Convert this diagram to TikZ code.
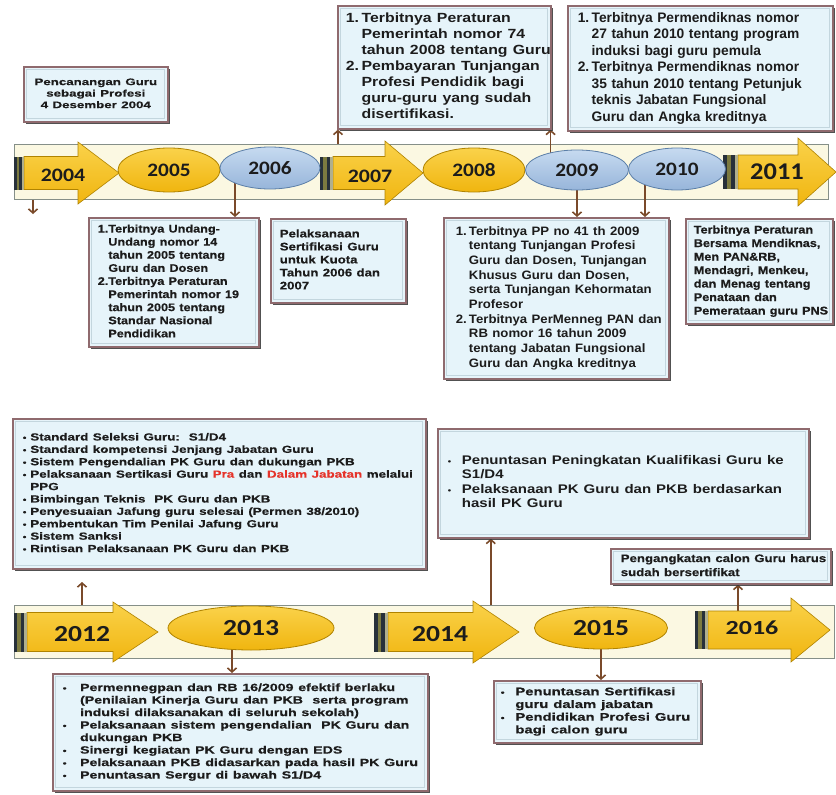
\documentclass[tikz,border=0pt]{standalone}
\usepackage{fontspec}
\usepackage{graphicx}
\setmainfont{Liberation Sans}
\newfontfamily\yearfont{Carlito}
\usetikzlibrary{arrows.meta,shapes.geometric,shadows}
\pgfdeclarelayer{back}
\pgfdeclarelayer{links}
\pgfsetlayers{back,links,main}
\definecolor{boxfill}{HTML}{E6F4FA}
\definecolor{boxedge}{HTML}{8F6A6E}
\definecolor{boxinner}{HTML}{C3D6DE}
\definecolor{shadowc}{HTML}{333333}
\definecolor{stripfill}{HTML}{FBF8E2}
\definecolor{stripedge}{HTML}{858F88}
\definecolor{goldT}{HTML}{FAD24A}
\definecolor{goldB}{HTML}{F0B50F}
\definecolor{goldE}{HTML}{B08300}
\definecolor{blueT}{HTML}{C6DAF0}
\definecolor{blueB}{HTML}{97B5DA}
\definecolor{blueE}{HTML}{5C7FA8}
\definecolor{connc}{HTML}{7A4A2A}
\definecolor{txt}{HTML}{1C1C1C}
\definecolor{redtxt}{HTML}{E5332A}
\definecolor{barD}{HTML}{27303A}
\definecolor{barO}{HTML}{7C7A40}
% font size / line skip, bold
\newcommand\tf[2]{\fontsize{#1}{#2}\selectfont\bfseries}
% smaller text: slightly heavier
\newcommand\tfh[2]{\fontsize{#1}{#2}\selectfont\bfseries\addfontfeatures{FakeBold=0.4}}
% horizontally stretched table: {stretch}{colspec}{rows}
\newcommand\tb[3]{\scalebox{#1}[1]{\begin{tabular}{#2}#3\end{tabular}}}
\newcommand\yf[1]{\yearfont\bfseries\fontsize{#1}{#1}\selectfont}
\newcommand\ys[2]{\scalebox{#1}[1]{#2}}
\newcommand\bul{{\fontsize{8}{8}\selectfont\textbullet}}
\tikzset{
  box/.style={rectangle, draw=boxedge, line width=1.6pt, fill=boxfill, text=txt, align=left,
    inner ysep=0pt, anchor=north west,
    drop shadow={shadow xshift=2pt, shadow yshift=-2pt, fill=shadowc, opacity=0.85},
    path picture={\draw[boxinner, line width=0.8pt]
      ([shift={(3pt,-3pt)}]path picture bounding box.north west) rectangle
      ([shift={(-3pt,3pt)}]path picture bounding box.south east);}},
  strip/.style={rectangle, draw=stripedge, line width=1.4pt, fill=stripfill, inner sep=0pt, anchor=north west},
  goldell/.style={ellipse, draw=goldE, line width=0.8pt, top color=goldT, bottom color=goldB, text=txt, inner sep=0pt},
  blueell/.style={ellipse, draw=blueE, line width=0.8pt, top color=blueT, bottom color=blueB, text=txt, inner sep=0pt},
  goldarrow/.style={draw=goldE, line width=0.6pt, top color=goldT, bottom color=goldB},
  yearlbl/.style={text=txt, inner sep=0pt},
  conn/.style={draw=connc, line width=1.6pt, -{Straight Barb[length=4pt,width=9pt]}},
}
% x0 xb xh xt ym bodyhalf headhalf
\newcommand\yarrow[7]{%
  \path[goldarrow] (#2,#5-#6) -- (#3,#5-#6) -- (#3,#5-#7) -- (#4,#5) -- (#3,#5+#7) -- (#3,#5+#6) -- (#2,#5+#6) -- cycle;
  \fill[barD] (#1,#5-#6) rectangle ({#1+0.25*(#2-#1)},#5+#6);
  \fill[barO] ({#1+0.25*(#2-#1)},#5-#6) rectangle ({#1+0.5*(#2-#1)},#5+#6);
  \fill[barD] ({#1+0.5*(#2-#1)},#5-#6) rectangle ({#1+0.8*(#2-#1)},#5+#6);
  \fill[barO!60] ({#1+0.8*(#2-#1)},#5-#6) rectangle (#2,#5+#6);
}
\begin{document}
\begin{tikzpicture}[x=1pt,y=-1pt]
\useasboundingbox (0,0) rectangle (836,795);
\begin{pgfonlayer}{back}
\fill[white] (0,0) rectangle (836,795);
\node[strip, minimum width=814pt, minimum height=55pt] (s1) at (14,144) {};
\node[strip, minimum width=820pt, minimum height=53pt] (s2) at (14,605) {};
\end{pgfonlayer}

% ===== named points
\coordinate (d04) at (33,214);
\coordinate (u12) at (82,582);
\coordinate (a16top) at (738,612);

% ===== timeline row 1
\yarrow{14}{24}{78}{119}{173}{16.5}{31}
\yarrow{320}{333}{385}{423}{173}{16.5}{32}
\yarrow{723}{738}{798}{836}{172}{17}{34}
\node[yearlbl, font=\yf{19}] (y04) at (63,175) {\ys{1.15}{2004}};
\node[yearlbl, font=\yf{19}] (y07) at (370,176) {\ys{1.15}{2007}};
\node[yearlbl, font=\yf{24}] (y11) at (777,172) {\ys{1.1}{2011}};
\node[goldell, minimum width=102pt, minimum height=44pt, font=\yf{19}] (e05) at (169,170) {\ys{1.12}{2005}};
\node[blueell, minimum width=100pt, minimum height=42pt, font=\yf{19}] (e06) at (270,168) {\ys{1.12}{2006}};
\node[goldell, minimum width=102pt, minimum height=44pt, font=\yf{19}] (e08) at (474,170) {\ys{1.12}{2008}};
\node[blueell, minimum width=103pt, minimum height=40pt, font=\yf{19}] (e09) at (577,170) {\ys{1.12}{2009}};
\node[blueell, minimum width=97pt, minimum height=42pt, font=\yf{19}] (e10) at (677,169) {\ys{1.12}{2010}};

% ===== timeline row 2
\yarrow{14}{27}{113}{158}{632}{19.5}{30}
\yarrow{374}{388}{473}{519}{632}{19.5}{31}
\yarrow{695}{708}{791}{830}{630}{19}{32}
\node[yearlbl, font=\yf{23}] (y12) at (82,634) {\ys{1.2}{2012}};
\node[yearlbl, font=\yf{23}] (y14) at (440,634) {\ys{1.2}{2014}};
\node[yearlbl, font=\yf{20}] (y16) at (752,628) {\ys{1.3}{2016}};
\node[goldell, minimum width=166pt, minimum height=44pt, font=\yf{23}] (e13) at (251,628) {\ys{1.2}{2013}};
\node[goldell, minimum width=133pt, minimum height=42pt, font=\yf{23}] (e15) at (601,628) {\ys{1.2}{2015}};

% ===== boxes row 1
\node[box, text width=136pt, inner xsep=4pt, minimum height=55pt, align=center, font=\tfh{9.5}{11.5}] (b04) at (23,66)
  {\tb{1.4}{@{}c@{}}{Pencanangan Guru\\sebagai Profesi\\4 Desember 2004}};
\node[box, text width=197pt, inner xsep=8pt, minimum height=123pt, font=\tf{13.3}{16}] (b07) at (337,5)
  {\tb{1.19}{@{}l@{\,}l@{}}{1.&Terbitnya Peraturan\\&Pemerintah nomor 74\\&tahun 2008 tentang Guru\\2.&Pembayaran Tunjangan\\&Profesi Pendidik bagi\\&guru-guru yang sudah\\&disertifikasi.}};
\node[box, text width=245pt, inner xsep=10pt, minimum height=125pt, font=\tf{13.8}{16.5}] (b10) at (567,5)
  {\tb{1.0}{@{}l@{\,}l@{}}{1.&Terbitnya Permendiknas nomor\\&27 tahun 2010 tentang program\\&induksi bagi guru pemula\\2.&Terbitnya Permendiknas nomor\\&35 tahun 2010 tentang Petunjuk\\&teknis Jabatan Fungsional\\&Guru dan Angka kreditnya}};
\node[box, text width=152pt, inner xsep=9pt, minimum height=129pt, font=\tfh{11}{13.1}] (b05) at (88,217)
  {\tb{1.15}{@{}l@{}l@{}}{1.&Terbitnya Undang-\\&Undang nomor 14\\&tahun 2005 tentang\\&Guru dan Dosen\\2.&Terbitnya Peraturan\\&Pemerintah nomor 19\\&tahun 2005 tentang\\&Standar Nasional\\&Pendidikan}};
\node[box, text width=117pt, inner xsep=9pt, minimum height=84pt, font=\tfh{11}{13}] (b06) at (270,218)
  {\tb{1.2}{@{}l@{}}{Pelaksanaan\\Sertifikasi Guru\\untuk Kuota\\Tahun 2006 dan\\2007}};
\node[box, text width=201pt, inner xsep=12pt, minimum height=161pt, font=\tf{12.2}{14.7}] (b09) at (443,217)
  {\tb{1.08}{@{}l@{\,}l@{}}{1.&Terbitnya PP no 41 th 2009\\&tentang Tunjangan Profesi\\&Guru dan Dosen, Tunjangan\\&Khusus Guru dan Dosen,\\&serta Tunjangan Kehormatan\\&Profesor\\2.&Terbitnya PerMenneg PAN dan\\&RB nomor 16 tahun 2009\\&tentang Jabatan Fungsional\\&Guru dan Angka kreditnya}};
\node[box, text width=131pt, inner xsep=8pt, minimum height=105pt, font=\tfh{11.2}{13.5}] (b11) at (685,218)
  {\tb{1.13}{@{}l@{}}{Terbitnya Peraturan\\Bersama Mendiknas,\\Men PAN\&RB,\\Mendagri, Menkeu,\\dan Menag tentang\\Penataan dan\\Pemerataan guru PNS}};

% ===== boxes row 2
\node[box, text width=393pt, inner xsep=10pt, minimum height=150pt, font=\tfh{10.3}{12.4}] (b12) at (12,418)
  {\tb{1.3}{@{}l@{\hspace{3pt}}l@{}}{\bul&Standard Seleksi Guru:\ \ S1/D4\\\bul&Standard kompetensi Jenjang Jabatan Guru\\\bul&Sistem Pengendalian PK Guru dan dukungan PKB\\\bul&Pelaksanaan Sertikasi Guru \textcolor{redtxt}{Pra} dan \textcolor{redtxt}{Dalam Jabatan} melalui\\&PPG\\\bul&Bimbingan Teknis\ \ PK Guru dan PKB\\\bul&Penyesuaian Jafung guru selesai (Permen 38/2010)\\\bul&Pembentukan Tim Penilai Jafung Guru\\\bul&Sistem Sanksi\\\bul&Rintisan Pelaksanaan PK Guru dan PKB}};
\node[box, text width=351pt, inner xsep=10pt, minimum height=109pt, font=\tf{12.5}{14.5}] (b14) at (437,428)
  {\tb{1.2}{@{}l@{\hspace{9pt}}l@{}}{\bul&Penuntasan Peningkatan Kualifikasi Guru ke\\&S1/D4\\\bul&Pelaksanaan PK Guru dan PKB berdasarkan\\&hasil PK Guru}};
\node[box, text width=200pt, inner xsep=10pt, minimum height=35pt, font=\tfh{11}{14}] (b16) at (610,548)
  {\tb{1.2}{@{}l@{}}{Pengangkatan calon Guru harus\\sudah bersertifikat}};
\node[box, text width=355pt, inner xsep=10pt, minimum height=117pt, font=\tfh{10.5}{12.5}] (b13) at (52,673)
  {\tb{1.35}{@{}l@{\hspace{10pt}}l@{}}{\bul&Permennegpan dan RB 16/2009 efektif berlaku\\&(Penilaian Kinerja Guru dan PKB\ \ serta program\\&induksi dilaksanakan di seluruh sekolah)\\\bul&Pelaksanaan sistem pengendalian\ \ PK Guru dan\\&dukungan PKB\\\bul&Sinergi kegiatan PK Guru dengan EDS\\\bul&Pelaksanaan PKB didasarkan pada hasil PK Guru\\\bul&Penuntasan Sergur di bawah S1/D4}};
\node[box, text width=193pt, inner xsep=7pt, minimum height=62pt, font=\tfh{11}{12.7}] (b15) at (493,680)
  {\tb{1.35}{@{}l@{\hspace{8pt}}l@{}}{\bul&Penuntasan Sertifikasi\\&guru dalam jabatan\\\bul&Pendidikan Profesi Guru\\&bagi calon guru}};

% ===== connectors (on a layer under the timeline shapes)
\begin{pgfonlayer}{links}
\draw[conn] (s1.south -| d04) -- (d04);
\draw[conn] ([xshift=-35pt]e06.center) -- ([xshift=-35pt]e06.center |- b05.north);
\draw[conn] ([xshift=1pt]b07.south west |- s1.north) -- ([xshift=1pt]b07.south west);
\draw[conn] ([xshift=-1pt]b07.south east |- e09.center) -- ([xshift=-1pt]b07.south east);
\draw[conn] (e09.center) -- (e09.center |- b09.north);
\draw[conn] ([xshift=-32pt]e10.center) -- ([xshift=-32pt]e10.center |- b09.north);
\draw[conn] (u12 |- s2.north) -- (u12);
\draw[conn] ([xshift=-132.5pt]b14.south |- s2.north) -- ([xshift=-132.5pt]b14.south);
\draw[conn] (a16top) -- (a16top |- b16.south);
\draw[conn] ([xshift=-19pt]e13.center) -- ([xshift=-19pt]e13.center |- b13.north);
\draw[conn] (e15.center) -- (e15.center |- b15.north);
\end{pgfonlayer}
\end{tikzpicture}
\end{document}
